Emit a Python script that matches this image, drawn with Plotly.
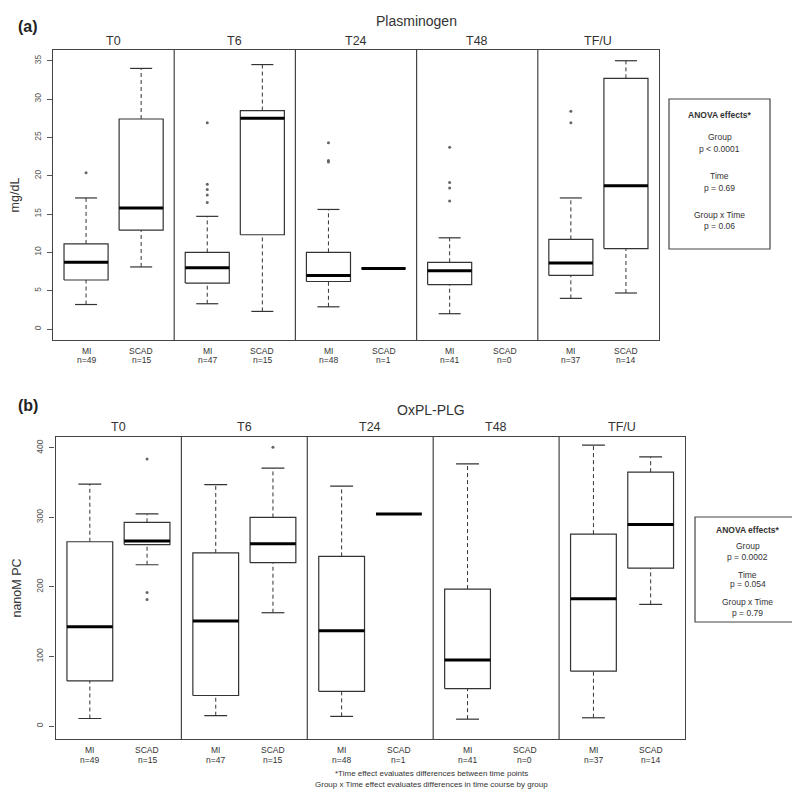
import plotly.graph_objects as go

times = ["T0", "T6", "T24", "T48", "TF/U"]
groups = ["MI", "SCAD"]
n_mi = [49, 47, 48, 41, 37]
n_scad = [15, 15, 1, 0, 14]

# box stats: lower whisker, Q1, median, Q3, upper whisker (None = no data)
plg_mi = [[3.2, 6.4, 8.7, 11.1, 17.1], [3.3, 6.0, 8.0, 10.0, 14.7],
          [2.9, 6.2, 7.0, 10.0, 15.6], [2.0, 5.8, 7.6, 8.7, 11.9],
          [4.0, 7.0, 8.6, 11.7, 17.1]]
plg_scad = [[8.1, 12.9, 15.8, 27.4, 34.0], [2.3, 12.3, 27.5, 28.5, 34.5],
            [7.9, 7.9, 7.9, 7.9, 7.9], None,
            [4.7, 10.5, 18.7, 32.7, 35.0]]
plg_mi_out = [[20.4], [26.9, 18.9, 18.2, 17.5, 16.5], [24.3, 22.0, 21.8],
              [23.7, 19.1, 18.4, 16.7], [28.4, 26.9]]
plg_scad_out = [[], [], [], [], []]

oxpl_mi = [[11, 65, 143, 265, 348], [15, 44, 151, 249, 347],
           [14, 50, 137, 244, 345], [10, 54, 95, 197, 377],
           [12, 79, 183, 276, 404]]
oxpl_scad = [[232, 261, 266, 293, 305], [163, 235, 262, 300, 371],
             [305, 305, 305, 305, 305], None,
             [175, 227, 290, 365, 387]]
oxpl_mi_out = [[], [], [], [], []]
oxpl_scad_out = [[384, 192, 182], [401], [], [], []]

anova_a = ["Group", "p < 0.0001", "Time", "p = 0.69", "Group x Time", "p = 0.06"]
anova_b = ["Group", "p = 0.0002", "Time", "p = 0.054", "Group x Time", "p = 0.79"]

FONT = "Liberation Sans, Arial, sans-serif"
INK = "#333333"
PW = 2.2  # width of one time panel in x units


def pos(i, g):
    return i * PW + 0.6 + g


def panel_traces(xa, ya, mi, scad, mi_out, scad_out):
    bx, by, mx, my, wx, wy, cx, cy, ox, oy = [], [], [], [], [], [], [], [], [], []
    for i in range(len(times)):
        for g, (stats, outs) in enumerate([(mi[i], mi_out[i]), (scad[i], scad_out[i])]):
            p = pos(i, g)
            for o in outs:
                ox.append(p)
                oy.append(o)
            if stats is None:
                continue
            lo, q1, med, q3, hi = stats
            bx += [p - 0.4, p + 0.4, p + 0.4, p - 0.4, p - 0.4, None]
            by += [q1, q1, q3, q3, q1, None]
            mx += [p - 0.4, p + 0.4, None]
            my += [med, med, None]
            wx += [p, p, None, p, p, None]
            wy += [lo, q1, None, q3, hi, None]
            cx += [p - 0.2, p + 0.2, None, p - 0.2, p + 0.2, None]
            cy += [lo, lo, None, hi, hi, None]
    common = dict(xaxis=xa, yaxis=ya, mode="lines", hoverinfo="skip")
    return [
        go.Scatter(x=wx, y=wy, line=dict(color=INK, width=1, dash="4px,3px"), **common),
        go.Scatter(x=cx, y=cy, line=dict(color=INK, width=1.2), **common),
        go.Scatter(x=bx, y=by, line=dict(color=INK, width=1.2), **common),
        go.Scatter(x=mx, y=my, line=dict(color="black", width=3), **common),
        go.Scatter(x=ox, y=oy, xaxis=xa, yaxis=ya, mode="markers", hoverinfo="skip",
                   marker=dict(color="#666666", size=3)),
    ]


fig = go.Figure()
for t in panel_traces("x", "y", plg_mi, plg_scad, plg_mi_out, plg_scad_out):
    fig.add_trace(t)
for t in panel_traces("x2", "y2", oxpl_mi, oxpl_scad, oxpl_mi_out, oxpl_scad_out):
    fig.add_trace(t)

W, H = 800, 790
dom_a_x = [45 / W, 651 / W]
dom_a_y = [1 - 332 / H, 1 - 42 / H]
dom_b_x = [47.5 / W, 677 / W]
dom_b_y = [1 - 731 / H, 1 - 429 / H]

xcommon = dict(range=[0, PW * len(times)], showticklabels=False,
               ticks="", showline=True, mirror=True, linecolor="#444444", linewidth=1.2,
               showgrid=False, zeroline=False, fixedrange=True)
ycommon = dict(tickangle=-90, ticks="outside", ticklen=5, tickcolor="#555555",
               ticklabelstandoff=3,
               showline=True, mirror=True, linecolor="#444444", linewidth=1.2,
               showgrid=False, zeroline=False, fixedrange=True,
               tickfont=dict(family=FONT, size=8.5, color="#555555"),
               title_font=dict(family=FONT, size=12.5, color=INK), title_standoff=10)

fig.update_layout(
    width=W, height=H, margin=dict(l=0, r=0, t=0, b=0),
    paper_bgcolor="white", plot_bgcolor="white", showlegend=False,
    font=dict(family=FONT, color=INK),
    xaxis=dict(domain=dom_a_x, anchor="y", **xcommon),
    yaxis=dict(domain=dom_a_y, anchor="x", range=[-1.43, 36.4],
               tickvals=[0, 5, 10, 15, 20, 25, 30, 35], title_text="mg/dL", **ycommon),
    xaxis2=dict(domain=dom_b_x, anchor="y2", **xcommon),
    yaxis2=dict(domain=dom_b_y, anchor="x2", range=[-18.5, 415.6],
                tickvals=[0, 100, 200, 300, 400], title_text="nanoM PC", **ycommon),
)

shapes = []
annotations = []
small = dict(family=FONT, size=8.5, color=INK)
for xa, ya, ty, ly in [("x", "y", 33, 342.5), ("x2", "y2", 419, 741.5)]:
    for k in range(1, len(times)):
        shapes.append(dict(type="line", xref=xa, yref=f"{ya} domain", x0=k * PW, x1=k * PW,
                           y0=0, y1=1, line=dict(color="#444444", width=1.2)))
    for i, t in enumerate(times):
        annotations.append(dict(text=t, xref=xa, x=i * PW + PW / 2, yref="paper", y=1 - ty / H,
                                showarrow=False, font=dict(family=FONT, size=12.5, color=INK),
                                xanchor="center", yanchor="middle"))
        for g, n in enumerate([n_mi[i], n_scad[i]]):
            for txt, dy in [(groups[g], 0), (f"n={n}", 10)]:
                annotations.append(dict(text=txt, xref=xa, x=pos(i, g), yref="paper",
                                        y=1 - (ly + dy) / H, showarrow=False, font=small,
                                        xanchor="center", yanchor="middle"))

# panel titles
for lab, x, y in [("(a)", 8, 18), ("(b)", 8, 397)]:
    annotations.append(dict(text=f"<b>{lab}</b>", xref="paper", yref="paper", x=x / W, y=1 - y / H,
                            showarrow=False, xanchor="left", yanchor="middle",
                            font=dict(family=FONT, size=16, color="#222222")))
for lab, x, y in [("Plasminogen", 408, 13), ("OxPL-PLG", 423, 402)]:
    annotations.append(dict(text=lab, xref="paper", yref="paper", x=x / W, y=1 - y / H,
                            showarrow=False, xanchor="center", yanchor="middle",
                            font=dict(family=FONT, size=14, color=INK)))

# ANOVA boxes
for lines, (x0, x1, y0, y1), ys in [
    (anova_a, (661, 762, 91, 241), [107, 129, 141, 168, 180, 207, 218]),
    (anova_b, (687, 792, 509, 614), [522, 538, 549, 567, 576, 594, 605]),
]:
    shapes.append(dict(type="rect", xref="paper", yref="paper", x0=x0 / W, x1=x1 / W,
                       y0=1 - y1 / H, y1=1 - y0 / H, line=dict(color="#444444", width=1.2)))
    cxp = (x0 + x1) / 2 / W
    texts = ["<b>ANOVA effects*</b>"] + lines
    for txt, yy in zip(texts, ys):
        annotations.append(dict(text=txt, xref="paper", yref="paper", x=cxp, y=1 - yy / H,
                                showarrow=False, xanchor="center", yanchor="middle",
                                font=small))

# footnote
for txt, yy in [("*Time effect evaluates differences between time points", 765),
                ("Group x Time effect evaluates differences in time course by group", 776)]:
    annotations.append(dict(text=txt, xref="paper", yref="paper", x=423 / W, y=1 - yy / H,
                            showarrow=False, xanchor="center", yanchor="middle",
                            font=dict(family=FONT, size=8, color=INK)))

fig.update_layout(shapes=shapes, annotations=annotations)
fig.write_html("out.html")
